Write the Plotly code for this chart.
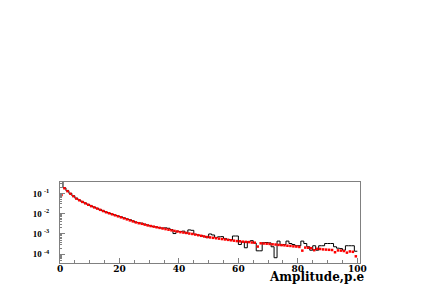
import plotly.graph_objects as go

# Histogram bins (amplitude, p.e.), width 1
bin_edges = list(range(0, 101))
bin_centers = [e + 0.5 for e in range(0, 100)]

# log10 of bin contents
black_log10 = [
    -0.30, -0.73, -0.87, -1.00, -1.12, -1.24, -1.33, -1.41, -1.48, -1.55,
    -1.62, -1.68, -1.74, -1.80, -1.86, -1.92, -1.97, -2.02, -2.07, -2.11,
    -2.15, -2.20, -2.25, -2.29, -2.35, -2.42, -2.44, -2.47, -2.52, -2.56,
    -2.60, -2.63, -2.66, -2.69, -2.71, -2.70, -2.72, -2.78, -2.98, -2.86,
    -2.88, -2.86, -2.96, -2.80, -2.82, -3.02, -3.05, -3.08, -3.13, -3.18,
    -3.00, -3.05, -3.17, -3.14, -3.13, -3.22, -3.27, -3.30, -3.10, -3.10,
    -3.52, -3.38, -3.68, -3.38, -3.33, -3.45, -3.83, -3.83, -3.43, -3.42,
    -3.44, -3.63, -4.17, -3.35, -3.55, -3.52, -3.35, -3.47, -3.52, -3.58,
    -3.58, -3.35, -3.47, -3.63, -3.80, -3.58, -3.80, -3.58, -3.58, -3.47,
    -3.47, -3.47, -3.63, -3.70, -3.72, -3.80, -3.58, -3.58, -3.58, -3.85,
]

red_log10 = [
    -1.08, -0.75, -0.89, -1.02, -1.14, -1.26, -1.34, -1.42, -1.49, -1.56,
    -1.63, -1.69, -1.75, -1.81, -1.87, -1.93, -1.98, -2.03, -2.08, -2.13,
    -2.18, -2.23, -2.28, -2.33, -2.38, -2.43, -2.47, -2.50, -2.54, -2.58,
    -2.61, -2.64, -2.67, -2.70, -2.73, -2.76, -2.79, -2.82, -2.85, -2.88,
    -2.91, -2.93, -2.95, -2.98, -3.00, -3.03, -3.06, -3.09, -3.12, -3.15,
    -3.17, -3.19, -3.21, -3.23, -3.25, -3.27, -3.29, -3.31, -3.33, -3.35,
    -3.36, -3.38, -3.39, -3.40, -3.42, -3.43, -3.62, -3.46, -3.47, -3.48,
    -3.49, -3.51, -3.52, -3.54, -3.55, -3.56, -3.58, -3.59, -3.61, -3.62,
    -3.64, -3.82, -3.67, -3.68, -3.70, -3.80, -3.73, -3.74, -3.76, -3.77,
    -3.78, -3.79, -3.90, -3.81, -3.82, -3.84, -3.92, -3.86, -3.88, -4.10,
]

y_tick_vals = [1e-1, 1e-2, 1e-3, 1e-4]
y_tick_text = ["10 <sup>-1</sup>", "10 <sup>-2</sup>", "10 <sup>-3</sup>", "10 <sup>-4</sup>"]
x_tick_vals = [0, 20, 40, 60, 80, 100]
x_title = "Amplitude,p.e"

black_vals = [10 ** v for v in black_log10]
red_vals = [10 ** v for v in red_log10]

fig = go.Figure()
fig.add_trace(go.Scatter(
    x=bin_edges, y=black_vals + [black_vals[-1]],
    mode="lines", line=dict(color="black", width=1, shape="hv"),
    showlegend=False, hoverinfo="skip",
))
fig.add_trace(go.Scatter(
    x=bin_centers, y=red_vals, mode="markers",
    marker=dict(color="#ff0000", size=2.5, symbol="square", line=dict(width=0)),
    showlegend=False, cliponaxis=True,
))

minor_y = [m * 10 ** d for d in (-5, -4, -3, -2, -1) for m in range(2, 10)]

fig.update_layout(
    width=432, height=284,
    margin=dict(l=60, r=72, t=182, b=21, autoexpand=False),
    paper_bgcolor="white", plot_bgcolor="white",
    font=dict(family="Liberation Serif", color="black"),
    xaxis=dict(
        range=[0, 100.9], showgrid=False, zeroline=False, automargin=False,
        showline=True, linecolor="#808080", linewidth=1, mirror=True,
        ticks="inside", ticklen=5, tickcolor="#808080",
        tickvals=x_tick_vals, ticktext=[str(v) for v in x_tick_vals],
        tickfont=dict(family="DejaVu Serif", size=9, weight="bold", color="black"),
        ticklabelstandoff=-3,
        minor=dict(ticks="inside", ticklen=3, dtick=5, tickcolor="#808080", showgrid=False),
    ),
    yaxis=dict(
        type="log", range=[-4.43, -0.44], showgrid=False, zeroline=False, automargin=False,
        showline=True, linecolor="#808080", linewidth=1, mirror=True,
        ticks="inside", ticklen=5, tickcolor="#808080",
        tickvals=y_tick_vals, ticktext=y_tick_text,
        tickfont=dict(family="Liberation Serif", size=9, weight="bold", color="black"),
        ticklabelstandoff=8,
        minor=dict(ticks="inside", ticklen=2, tickvals=minor_y, tickcolor="#808080", showgrid=False),
    ),
    annotations=[dict(
        text=x_title, xref="paper", yref="paper", x=1.023, y=0,
        xanchor="right", yanchor="bottom", yshift=-23, showarrow=False,
        font=dict(family="DejaVu Serif", size=12, weight="bold", color="black"),
    )],
)

fig.write_html("out.html", post_script="document.body.style.margin='0';",
               config={"displayModeBar": False})
